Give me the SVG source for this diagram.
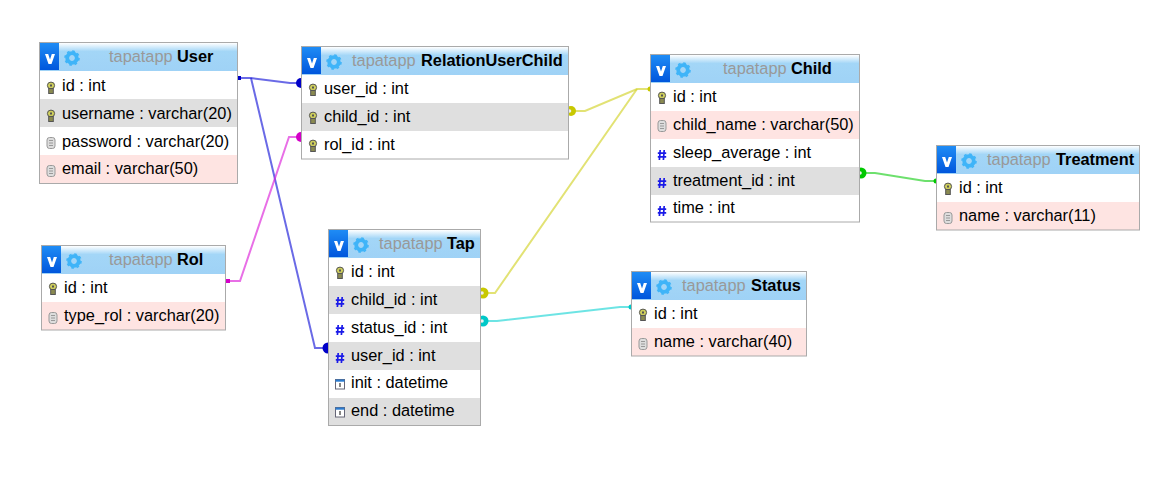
<svg xmlns="http://www.w3.org/2000/svg" width="1167" height="482" viewBox="0 0 1167 482">
<style>
text{font-family:"Liberation Sans",Arial,sans-serif;font-size:16.350px;fill:#000}
.frame{fill:none;stroke:#aaa;stroke-width:1}
.rw{fill:#fff}.rg{fill:#dfdfdf}.rp{fill:#fee4e2}
.tn{font-weight:bold}
.tp{fill:#999}
.c{fill:none;stroke-width:2;stroke-opacity:.65}
.blue{stroke:#1a1ad8}.mag{stroke:#dc22d8}.yel{stroke:#d2d22a}.cya{stroke:#1fd6d6}.grn{stroke:#1fd01f}
</style>
<defs>
<linearGradient id="hd" x1="0" y1="0" x2="0" y2="1"><stop offset="0" stop-color="#fff"/><stop offset=".3" stop-color="#a3d6f7"/><stop offset="1" stop-color="#9fd2f6"/></linearGradient>
<linearGradient id="vb" x1="0" y1="0" x2="0" y2="1"><stop offset="0" stop-color="#1f8cf5"/><stop offset="1" stop-color="#0056dc"/></linearGradient>
<g id="ctl"><rect x="0" y="0" width="19" height="27" fill="url(#vb)"/><path d="M5 11h3.200l1.800 5.500 1.800-5.500h3.200l-3.500 10h-3z" fill="#fff"/></g>
<g id="gear"><circle r="4.800" fill="none" stroke="#3fb4f8" stroke-width="3.800"/><circle r="7" fill="none" stroke="#3fb4f8" stroke-width="1.600" stroke-dasharray="2.700 2.800"/></g>
<g id="key"><ellipse cx="0" cy="-2.500" rx="3.600" ry="3.400" fill="#cfcf5c" stroke="#555" stroke-width="1"/><rect x="-2.300" y="0.500" width="4.600" height="5" fill="#8a8a50" stroke="#555" stroke-width="1"/><rect x="-1" y="-3.500" width="2" height="2" fill="#555"/></g>
<g id="fld"><rect x="-4" y="-5.500" width="8" height="11" rx="2.500" fill="#ddd" stroke="#999" stroke-width="1"/><path d="M-2 -2.500h4M-2 0h4M-2 2.500h4" stroke="#888" stroke-width=".8"/></g>
<path id="num" d="M-1.800 -5l-.8 10M2.200 -5l-.8 10M-4.200 -1.800h8.400M-4.200 1.800h8.400" fill="none" stroke="#1a1ae8" stroke-width="1.700"/>
<g id="dt"><rect x="-4.500" y="-4.500" width="9" height="9.500" fill="#fff" stroke="#667" stroke-width="1"/><rect x="-4.500" y="-4.500" width="9" height="2.200" fill="#2a7bd0"/><path d="M0 -1v4" stroke="#333" stroke-width="1.200"/></g>
</defs>
<g id="connectors">
<path class="c blue" d="M238 78H251L290 83H301"/>
<path class="c blue" d="M251 78L315 348H328"/>
<path class="c mag" d="M228 281H240L289 137H301"/>
<path class="c yel" d="M572 111H585L637 89H650"/>
<path class="c yel" d="M484 293H495L637 89"/>
<path class="c cya" d="M484 321H497L620 307H631"/>
<path class="c grn" d="M862 173H875L925 181H936"/>
<rect x="237" y="76" width="4" height="4" fill="#0000c8"/>
<rect x="225" y="279" width="5" height="4" fill="#d400c8"/>
<circle cx="301" cy="83" r="5" fill="#0000c8"/>
<circle cx="328" cy="348" r="5.500" fill="#0000c8"/>
<circle cx="301" cy="137" r="5" fill="#d400c8"/>
<circle cx="650" cy="89" r="2.500" fill="#c8c800"/>
<circle cx="936" cy="181" r="2.500" fill="#00c800"/>
<circle cx="631" cy="307" r="2.500" fill="#00c8c8"/>
<circle cx="571" cy="111" r="5" fill="#c8c800"/><circle cx="569.500" cy="111" r="1.800" fill="#eee"/>
<circle cx="483" cy="293" r="5.500" fill="#c8c800"/><circle cx="482" cy="293" r="1.800" fill="#eee"/>
<circle cx="483" cy="321" r="5.500" fill="#00c8c8"/><circle cx="482" cy="321" r="1.800" fill="#eee"/>
<circle cx="861" cy="173" r="5.500" fill="#00c800"/><circle cx="860" cy="173" r="1.800" fill="#eee"/>
</g>
<g id="table-user" transform="translate(40 43)">
<rect width="197" height="28" fill="url(#hd)"/><use href="#ctl"/><use href="#gear" x="32" y="15"/>
<text class="tp" x="69" y="19">tapatapp</text><text class="tn" x="137" y="19">User</text>
<rect y="28" width="197" height="28" class="rw"/><rect y="56" width="197" height="28" class="rg"/><rect y="84" width="197" height="28" class="rw"/><rect y="112" width="197" height="28" class="rp"/>
<use href="#key" x="11" y="45"/><use href="#key" x="11" y="73"/><use href="#fld" x="11" y="100"/><use href="#fld" x="11" y="128"/>
<text x="22" y="48">id : int</text><text x="22" y="76">username : varchar(20)</text><text x="22" y="104">password : varchar(20)</text><text x="22" y="131">email : varchar(50)</text>
<rect x="-.5" y="-.5" width="198" height="141" class="frame"/>
</g>
<g id="table-relationuserchild" transform="translate(302 47)">
<rect width="266" height="28" fill="url(#hd)"/><use href="#ctl"/><use href="#gear" x="32" y="15"/>
<text class="tp" x="50" y="19">tapatapp</text><text class="tn" x="119" y="19">RelationUserChild</text>
<rect y="28" width="266" height="28" class="rw"/><rect y="56" width="266" height="28" class="rg"/><rect y="84" width="266" height="28" class="rw"/>
<use href="#key" x="11" y="43"/><use href="#key" x="11" y="71"/><use href="#key" x="11" y="99"/>
<text x="22" y="47">user_id : int</text><text x="22" y="75">child_id : int</text><text x="22" y="103">rol_id : int</text>
<rect x="-.5" y="-.5" width="267" height="112.500" class="frame"/>
</g>
<g id="table-child" transform="translate(651 55)">
<rect width="208" height="28" fill="url(#hd)"/><use href="#ctl"/><use href="#gear" x="32" y="15"/>
<text class="tp" x="72" y="19">tapatapp</text><text class="tn" x="140" y="19">Child</text>
<rect y="28" width="208" height="28" class="rw"/><rect y="56" width="208" height="28" class="rp"/><rect y="84" width="208" height="28" class="rw"/><rect y="112" width="208" height="28" class="rg"/><rect y="140" width="208" height="27" class="rw"/>
<use href="#key" x="11" y="43"/><use href="#fld" x="11" y="71"/><use href="#num" x="11" y="100"/><use href="#num" x="11" y="128"/><use href="#num" x="11" y="156"/>
<text x="22" y="47">id : int</text><text x="22" y="75">child_name : varchar(50)</text><text x="22" y="103">sleep_average : int</text><text x="22" y="131">treatment_id : int</text><text x="22" y="158">time : int</text>
<rect x="-.5" y="-.5" width="209" height="167.500" class="frame"/>
</g>
<g id="table-treatment" transform="translate(937 146)">
<rect width="202" height="28" fill="url(#hd)"/><use href="#ctl"/><use href="#gear" x="32" y="15"/>
<text class="tp" x="50" y="19">tapatapp</text><text class="tn" x="119" y="19">Treatment</text>
<rect y="28" width="202" height="28" class="rw"/><rect y="56" width="202" height="28" class="rp"/>
<use href="#key" x="11" y="43"/><use href="#fld" x="11" y="72"/>
<text x="22" y="47">id : int</text><text x="22" y="75">name : varchar(11)</text>
<rect x="-.5" y="-.5" width="203" height="84.500" class="frame"/>
</g>
<g id="table-rol" transform="translate(42 246)">
<rect width="183" height="28" fill="url(#hd)"/><use href="#ctl"/><use href="#gear" x="32" y="15"/>
<text class="tp" x="67" y="19">tapatapp</text><text class="tn" x="135" y="19">Rol</text>
<rect y="28" width="183" height="28" class="rw"/><rect y="56" width="183" height="28" class="rp"/>
<use href="#key" x="11" y="43"/><use href="#fld" x="11" y="72"/>
<text x="22" y="47">id : int</text><text x="22" y="75">type_rol : varchar(20)</text>
<rect x="-.5" y="-.5" width="184" height="84.500" class="frame"/>
</g>
<g id="table-tap" transform="translate(329 230)">
<rect width="151" height="28" fill="url(#hd)"/><use href="#ctl"/><use href="#gear" x="32" y="15"/>
<text class="tp" x="50" y="19">tapatapp</text><text class="tn" x="118" y="19">Tap</text>
<rect y="28" width="151" height="28" class="rw"/><rect y="56" width="151" height="28" class="rg"/><rect y="84" width="151" height="28" class="rw"/><rect y="112" width="151" height="28" class="rg"/><rect y="140" width="151" height="28" class="rw"/><rect y="168" width="151" height="27" class="rg"/>
<use href="#key" x="11" y="43"/><use href="#num" x="11" y="72"/><use href="#num" x="11" y="100"/><use href="#num" x="11" y="128"/><use href="#dt" x="11" y="154"/><use href="#dt" x="11" y="182"/>
<text x="22" y="47">id : int</text><text x="22" y="75">child_id : int</text><text x="22" y="103">status_id : int</text><text x="22" y="131">user_id : int</text><text x="22" y="158">init : datetime</text><text x="22" y="186">end : datetime</text>
<rect x="-.5" y="-.5" width="152" height="196" class="frame"/>
</g>
<g id="table-status" transform="translate(632 272)">
<rect width="174" height="28" fill="url(#hd)"/><use href="#ctl"/><use href="#gear" x="32" y="15"/>
<text class="tp" x="50" y="19">tapatapp</text><text class="tn" x="119" y="19">Status</text>
<rect y="28" width="174" height="28" class="rw"/><rect y="56" width="174" height="28" class="rp"/>
<use href="#key" x="11" y="43"/><use href="#fld" x="11" y="72"/>
<text x="22" y="47">id : int</text><text x="22" y="75">name : varchar(40)</text>
<rect x="-.5" y="-.5" width="175" height="84.500" class="frame"/>
</g>
</svg>
